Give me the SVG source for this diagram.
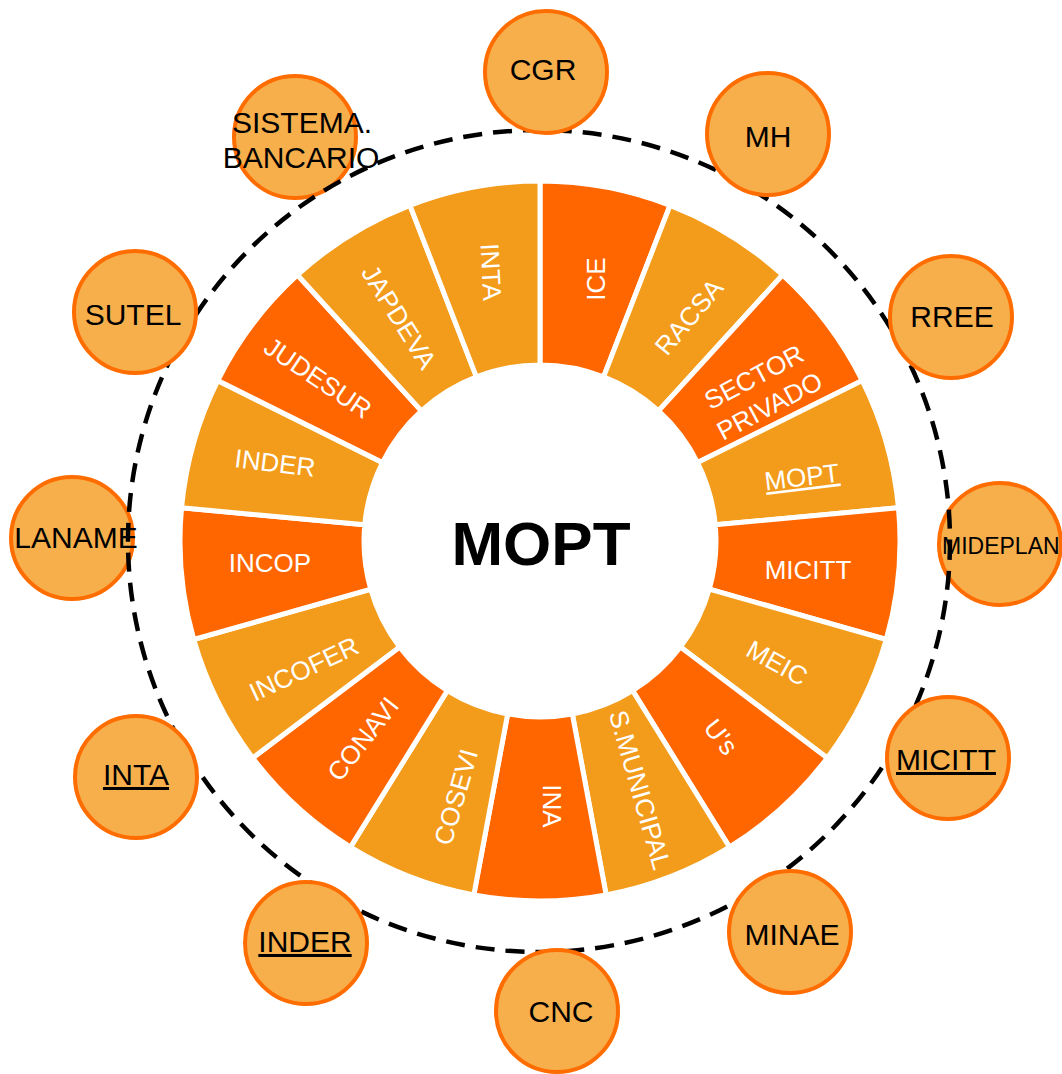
<svg xmlns="http://www.w3.org/2000/svg" width="1062" height="1074" viewBox="0 0 1062 1074">
<style>
.sd{fill:#FF6600;stroke:#FFFFFF;stroke-width:5;stroke-linejoin:miter}
.sl{fill:#F39C1B;stroke:#FFFFFF;stroke-width:5;stroke-linejoin:miter}
.lbl{font-family:"Liberation Sans",Arial,sans-serif;font-size:26px;fill:#FFFFFF;text-anchor:middle}
.nc{fill:#F7AF4C;stroke:#FF6D00;stroke-width:4}
.nt{font-family:"Liberation Sans",Arial,sans-serif;font-size:30px;fill:#000000;text-anchor:middle}
.ul{text-decoration:underline}
.ring{fill:none;stroke:#000000;stroke-width:4.5;stroke-dasharray:19 11}
.center{font-family:"Liberation Sans",Arial,sans-serif;font-size:62px;font-weight:bold;fill:#000000;text-anchor:middle}
</style>
<rect width="1062" height="1074" fill="#FFFFFF"/>

<!-- outer nodes drawn beneath the dashed ring -->
<g id="node-sistema-bancario"><circle class="nc" cx="295" cy="137" r="61"/><text class="nt" x="302" y="133">SISTEMA.</text><text class="nt" x="301" y="168">BANCARIO</text></g>
<g id="node-laname"><circle class="nc" cx="72" cy="538" r="61"/><text class="nt" x="76" y="548">LANAME</text></g>
<g id="node-mideplan"><circle class="nc" cx="1000" cy="544" r="61"/><text class="nt" x="942" y="554" style="font-size:23px;text-anchor:start">MIDEPLAN</text></g>

<g id="connectors">
<circle class="ring" cx="539" cy="541" r="411"/>
</g>

<g id="node-cgr"><circle class="nc" cx="546" cy="72" r="61"/><text class="nt" x="543" y="80">CGR</text></g>
<g id="node-mh"><circle class="nc" cx="768" cy="134" r="61"/><text class="nt" x="768" y="147">MH</text></g>
<g id="node-rree"><circle class="nc" cx="951" cy="317" r="61"/><text class="nt" x="952" y="327">RREE</text></g>
<g id="node-micitt-out"><circle class="nc" cx="948" cy="758" r="61"/><text class="nt ul" x="946" y="770">MICITT</text></g>
<g id="node-minae"><circle class="nc" cx="790" cy="932" r="61"/><text class="nt" x="792" y="945">MINAE</text></g>
<g id="node-cnc"><circle class="nc" cx="557" cy="1011" r="61"/><text class="nt" x="561" y="1022">CNC</text></g>
<g id="node-inder-out"><circle class="nc" cx="306" cy="943" r="61"/><text class="nt ul" x="305" y="952">INDER</text></g>
<g id="node-inta-out"><circle class="nc" cx="136" cy="777" r="61"/><text class="nt ul" x="136" y="785">INTA</text></g>
<g id="node-sutel"><circle class="nc" cx="135" cy="312" r="61"/><text class="nt" x="133" y="325">SUTEL</text></g>

<!-- ring segments -->
<g id="seg-ice"><path class="sd" d="M540,181 A360,360 0 0 1 670.05,205.31 L603.58,376.89 A176,176 0 0 0 540,365 Z"/><text class="lbl" transform="translate(596 279) rotate(-90)" y="9">ICE</text></g>
<g id="seg-racsa"><path class="sl" d="M670.05,205.31 A360,360 0 0 1 782.53,274.96 L658.57,410.93 A176,176 0 0 0 603.58,376.89 Z"/><text class="lbl" transform="translate(689 317) rotate(-50)" y="9">RACSA</text></g>
<g id="seg-sector-privado"><path class="sd" d="M782.53,274.96 A360,360 0 0 1 862.26,380.54 L697.55,462.55 A176,176 0 0 0 658.57,410.93 Z"/><text class="lbl" transform="translate(762 392) rotate(-28)"><tspan x="0" y="-8">SECTOR</tspan><tspan x="0" y="25">PRIVADO</tspan></text></g>
<g id="seg-mopt"><path class="sl" d="M862.26,380.54 A360,360 0 0 1 898.46,507.78 L715.25,524.76 A176,176 0 0 0 697.55,462.55 Z"/><text class="lbl ul" transform="translate(802 477) rotate(-7)" y="9">MOPT</text></g>
<g id="seg-micitt"><path class="sd" d="M898.46,507.78 A360,360 0 0 1 886.26,639.52 L709.28,589.16 A176,176 0 0 0 715.25,524.76 Z"/><text class="lbl" transform="translate(808 570) rotate(0)" y="9">MICITT</text></g>
<g id="seg-meic"><path class="sl" d="M886.26,639.52 A360,360 0 0 1 827.29,757.95 L680.45,647.06 A176,176 0 0 0 709.28,589.16 Z"/><text class="lbl" transform="translate(777 663) rotate(29)" y="9">MEIC</text></g>
<g id="seg-us"><path class="sd" d="M827.29,757.95 A360,360 0 0 1 729.51,847.08 L632.65,690.64 A176,176 0 0 0 680.45,647.06 Z"/><text class="lbl" transform="translate(721 737) rotate(52)" y="9">U's</text></g>
<g id="seg-smunicipal"><path class="sl" d="M729.51,847.08 A360,360 0 0 1 606.15,894.87 L572.34,714 A176,176 0 0 0 632.65,690.64 Z"/><text class="lbl" transform="translate(640 790) rotate(74)" y="9">S.MUNICIPAL</text></g>
<g id="seg-ina"><path class="sd" d="M606.15,894.87 A360,360 0 0 1 473.85,894.87 L507.66,714 A176,176 0 0 0 572.34,714 Z"/><text class="lbl" transform="translate(552 806) rotate(90)" y="9">INA</text></g>
<g id="seg-cosevi"><path class="sl" d="M473.85,894.87 A360,360 0 0 1 350.49,847.08 L447.35,690.64 A176,176 0 0 0 507.66,714 Z"/><text class="lbl" transform="translate(456 797) rotate(-74)" y="9">COSEVI</text></g>
<g id="seg-conavi"><path class="sd" d="M350.49,847.08 A360,360 0 0 1 252.71,757.95 L399.55,647.06 A176,176 0 0 0 447.35,690.64 Z"/><text class="lbl" transform="translate(363 739) rotate(-52)" y="9">CONAVI</text></g>
<g id="seg-incofer"><path class="sl" d="M252.71,757.95 A360,360 0 0 1 193.74,639.52 L370.72,589.16 A176,176 0 0 0 399.55,647.06 Z"/><text class="lbl" transform="translate(304 669) rotate(-25)" y="9">INCOFER</text></g>
<g id="seg-incop"><path class="sd" d="M193.74,639.52 A360,360 0 0 1 181.54,507.78 L364.75,524.76 A176,176 0 0 0 370.72,589.16 Z"/><text class="lbl" transform="translate(270 563) rotate(0)" y="9">INCOP</text></g>
<g id="seg-inder"><path class="sl" d="M181.54,507.78 A360,360 0 0 1 217.74,380.54 L382.45,462.55 A176,176 0 0 0 364.75,524.76 Z"/><text class="lbl" transform="translate(275 463) rotate(7)" y="9">INDER</text></g>
<g id="seg-judesur"><path class="sd" d="M217.74,380.54 A360,360 0 0 1 297.47,274.96 L421.43,410.93 A176,176 0 0 0 382.45,462.55 Z"/><text class="lbl" transform="translate(318 378) rotate(34)" y="9">JUDESUR</text></g>
<g id="seg-japdeva"><path class="sl" d="M297.47,274.96 A360,360 0 0 1 409.95,205.31 L476.42,376.89 A176,176 0 0 0 421.43,410.93 Z"/><text class="lbl" transform="translate(399 317) rotate(58)" y="9">JAPDEVA</text></g>
<g id="seg-inta"><path class="sl" d="M409.95,205.31 A360,360 0 0 1 540,181 L540,365 A176,176 0 0 0 476.42,376.89 Z"/><text class="lbl" transform="translate(491 272) rotate(87)" y="9">INTA</text></g>

<g id="center-mopt"><text class="center" x="541" y="565">MOPT</text></g>
</svg>
